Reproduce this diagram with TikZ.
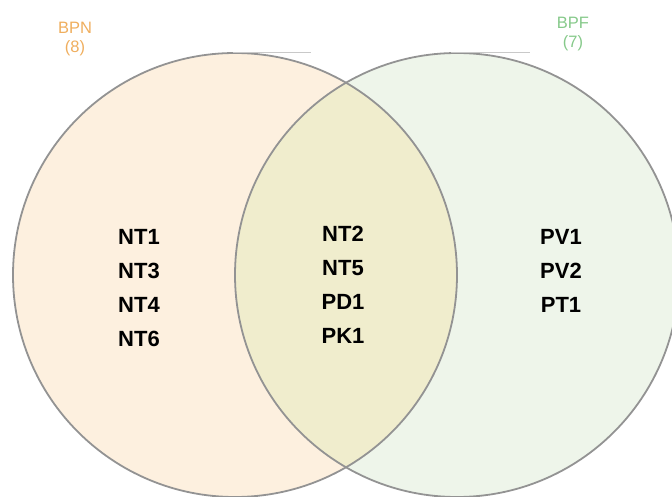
\documentclass[tikz,border=0pt]{standalone}
\usepackage{fontspec}
\setmainfont{Liberation Sans}
\usepackage{xcolor}
\usepackage{tikz}
\usetikzlibrary{positioning}

\definecolor{bpnfill}{HTML}{FDF0DF}
\definecolor{bpffill}{HTML}{EEF5EA}
\definecolor{bothfill}{HTML}{F0EDCD}
\definecolor{bpntext}{HTML}{EFAE5E}
\definecolor{bpftext}{HTML}{86C98A}
\definecolor{rim}{HTML}{939393}

\tikzset{
  item/.style={font=\bfseries\fontsize{22}{24}\selectfont,inner sep=0pt},
  setlabel/.style={font=\fontsize{16.5}{19}\selectfont,align=center,inner sep=0pt}
}

\begin{document}
\begin{tikzpicture}[x=1pt,y=-1pt,node distance=34pt]
\clip (0,0) rectangle (672,497);

% the two sets
\fill[bpnfill] (235,275) circle (222);
\fill[bpffill] (457,275) circle (222);
\begin{scope}
  \clip (235,275) circle (222);
  \fill[bothfill] (457,275) circle (222);
\end{scope}
\draw[rim,line width=1.8pt] (235,275) circle (222);
\draw[rim,line width=1.8pt] (457,275) circle (222);
\draw[rim!50,line width=0.6pt] (233,52) -- (311,52);
\draw[rim!50,line width=0.6pt] (451,52) -- (530,52);

% set names
\node[setlabel,text=bpntext] (BPN) at (75,39) {BPN\\(8)};
\node[setlabel,text=bpftext] (BPF) at (573,34) {BPF\\(7)};

% only BPN
\node[item] (NT1) at (139,237) {NT1};
\node[item] (NT3) [below of=NT1] {NT3};
\node[item] (NT4) [below of=NT3] {NT4};
\node[item] (NT6) [below of=NT4] {NT6};

% both
\node[item] (NT2) at (343,234) {NT2};
\node[item] (NT5) [below of=NT2] {NT5};
\node[item] (PD1) [below of=NT5] {PD1};
\node[item] (PK1) [below of=PD1] {PK1};

% only BPF
\node[item] (PV1) at (561,237) {PV1};
\node[item] (PV2) [below of=PV1] {PV2};
\node[item] (PT1) [below of=PV2] {PT1};

\end{tikzpicture}
\end{document}
